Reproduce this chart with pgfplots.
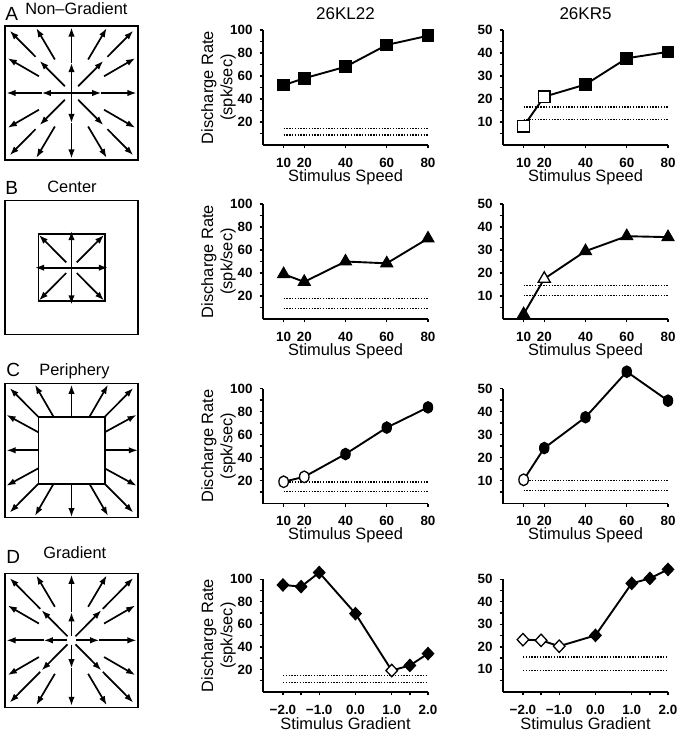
\documentclass[border=0pt]{standalone}
\usepackage{fontspec}
\setmainfont{Liberation Sans}
\usepackage{pgfplots}
\pgfplotsset{compat=1.18}
\usetikzlibrary{arrows.meta}

\pgfplotsset{
  rate/.style={
    scale only axis, width=82.5pt, height=57.5pt,
    axis lines=left, axis line style={-, line width=0.65pt},
    tick align=outside, major tick length=1.7pt, minor tick length=1.7pt,
    tick style={line width=0.65pt, black},
    ymin=0, clip=false,
    /pgf/number format/assume math mode=true,
    tick label style={font=\fontsize{6.7}{7}\selectfont\bfseries},
    xticklabel style={yshift=-1.2pt},
    label style={font=\fontsize{8.2}{9.6}\selectfont},
    xlabel={Stimulus Speed},
    xlabel style={at={(axis description cs:0.5,0)}, anchor=center, yshift=-16pt},
    every axis title/.style={font=\fontsize{8.5}{9}\selectfont, at={(axis description cs:0.5,1)}, anchor=base, yshift=5.3pt},
  },
  hundred/.style={ymax=100, ytick={20,40,60,80,100}, minor ytick={10,30,50,70,90}},
  fifty/.style={ymax=50, ytick={10,20,30,40,50}, minor ytick={5,15,25,35,45}},
  speed/.style={xmin=0, xmax=80, xtick={10,20,40,60,80}},
  grad/.style={xmin=-2.55, xmax=2, xtick={-2,-1.5,-1,0,1,1.5,2},
     xticklabels={−2.0,,−1.0,0.0,1.0,,2.0}, xlabel={Stimulus Gradient}},
  ylab/.style={ylabel={Discharge Rate\\(spk/sec)},
     ylabel style={at={(axis description cs:-0.27,0.5)}, anchor=center, align=center}},
  dataline/.style={black, line width=0.95pt, mark=none},
  base/.style={black, line width=0.75pt, dash pattern=on 0.7pt off 0.7pt},
  sqf/.style={only marks, mark=square*, mark size=2.9pt, mark options={fill=black, draw=black, line width=0.5pt}},
  sqo/.style={only marks, mark=square*, mark size=2.9pt, mark options={fill=white, draw=black, line width=0.65pt}},
  trif/.style={only marks, mark=triangle*, mark size=3.5pt, mark options={fill=black, draw=black, line width=0.5pt}},
  trio/.style={only marks, mark=triangle*, mark size=3.5pt, mark options={fill=white, draw=black, line width=0.65pt}},
  cirf/.style={only marks, mark=*, mark size=2.9pt, mark options={xscale=0.82, fill=black, draw=black, line width=0.5pt}},
  ciro/.style={only marks, mark=*, mark size=2.9pt, mark options={xscale=0.82, fill=white, draw=black, line width=0.65pt}},
  diaf/.style={only marks, mark=diamond*, mark size=3.1pt, mark options={xscale=1.25, fill=black, draw=black, line width=0.5pt}},
  diao/.style={only marks, mark=diamond*, mark size=3.1pt, mark options={xscale=1.25, fill=white, draw=black, line width=0.65pt}},
  diag/.style={scale only axis, width=66.5pt, height=67pt, xmin=-1, xmax=1, ymin=-1, ymax=1,
     xtick=\empty, ytick=\empty, axis line style={line width=0.75pt}, clip=false},
  arr/.style={black, line width=0.85pt, -{Latex[length=4.6pt,width=3.2pt]},
     quiver={u=\thisrow{u}, v=\thisrow{v}}},
}

\begin{document}
\begin{tikzpicture}
\useasboundingbox (0pt,0pt) rectangle (343pt,-368.5pt);

% ---------- panel labels ----------
\node[anchor=base west, inner sep=0pt, font=\fontsize{9.5}{10}\selectfont] at (2.5pt,-10.35pt) {A};
\node[anchor=base west, inner sep=0pt, font=\fontsize{8.2}{9}\selectfont] at (12.5pt,-7.5pt) {Non\textendash Gradient};
\node[anchor=base west, inner sep=0pt, font=\fontsize{9.5}{10}\selectfont] at (2.5pt,-97.5pt) {B};
\node[anchor=base west, inner sep=0pt, font=\fontsize{8.2}{9}\selectfont] at (23.5pt,-96.5pt) {Center};
\node[anchor=base west, inner sep=0pt, font=\fontsize{9.5}{10}\selectfont] at (3pt,-188.35pt) {C};
\node[anchor=base west, inner sep=0pt, font=\fontsize{8.2}{9}\selectfont] at (19.5pt,-187.5pt) {Periphery};
\node[anchor=base west, inner sep=0pt, font=\fontsize{9.5}{10}\selectfont] at (3pt,-281.65pt) {D};
\node[anchor=base west, inner sep=0pt, font=\fontsize{8.2}{9}\selectfont] at (21.5pt,-279.15pt) {Gradient};

% ---------- diagrams ----------
\begin{axis}[diag, at={(2.5pt,-13pt)}, anchor=north west]
\addplot[arr] table {
x y u v
0 0 0.45 0
0.45 0 0.53 0
0 0 -0.45 0
-0.45 0 -0.53 0
0 0 0 0.45
0 0.45 0 0.53
0 0 0 -0.45
0 -0.45 0 -0.53
0.1 0.1 0.38 0.38
0.54 0.54 0.39 0.39
-0.1 0.1 -0.38 0.38
-0.54 0.54 -0.39 0.39
0.1 -0.1 0.38 -0.38
0.54 -0.54 0.39 -0.39
-0.1 -0.1 -0.38 -0.38
-0.54 -0.54 -0.39 -0.39
0.49 0.25 0.47 0.27
0.25 0.5 0.28 0.47
-0.49 0.25 -0.47 0.27
-0.25 0.5 -0.28 0.47
0.49 -0.25 0.47 -0.27
0.25 -0.5 0.28 -0.47
-0.49 -0.25 -0.47 -0.27
-0.25 -0.5 -0.28 -0.47
};
\end{axis}

\begin{axis}[diag, at={(2.5pt,-100.35pt)}, anchor=north west]
\addplot[black, line width=0.75pt] coordinates {(-0.5,-0.5) (0.5,-0.5) (0.5,0.5) (-0.5,0.5) (-0.5,-0.5)};
\addplot[arr] table {
x y u v
0 0 0.55 0
0 0 -0.55 0
0 0 0 0.55
0 0 0 -0.55
0.08 0.08 0.41 0.41
-0.08 0.08 -0.41 0.41
0.08 -0.08 0.41 -0.41
-0.08 -0.08 -0.41 -0.41
};
\end{axis}

\begin{axis}[diag, at={(2.5pt,-191.65pt)}, anchor=north west]
\addplot[black, line width=0.75pt] coordinates {(-0.5,-0.5) (0.5,-0.5) (0.5,0.5) (-0.5,0.5) (-0.5,-0.5)};
\addplot[arr] table {
x y u v
0.5 0 0.5 0
-0.5 0 -0.48 0
0 0.5 0 0.48
0 -0.5 0 -0.5
0.5 0.5 0.43 0.43
-0.5 0.5 -0.43 0.43
0.5 -0.5 0.43 -0.43
-0.5 -0.5 -0.43 -0.43
0.5 0.27 0.48 0.26
0.27 0.5 0.28 0.48
-0.5 0.27 -0.48 0.26
-0.27 0.5 -0.28 0.48
0.5 -0.27 0.48 -0.26
0.27 -0.5 0.28 -0.48
-0.5 -0.27 -0.48 -0.26
-0.27 -0.5 -0.28 -0.48
};
\end{axis}

\begin{axis}[diag, at={(2.5pt,-286.65pt)}, anchor=north west]
\addplot[arr] table {
x y u v
0.07 0 0.35 0
0.42 0 0.56 0
-0.07 0 -0.35 0
-0.42 0 -0.56 0
0 0.07 0 0.35
0 0.42 0 0.56
0 -0.07 0 -0.35
0 -0.42 0 -0.56
0.06 0.06 0.39 0.39
0.47 0.47 0.46 0.46
-0.06 0.06 -0.39 0.39
-0.47 0.47 -0.46 0.46
0.06 -0.06 0.39 -0.39
0.47 -0.47 0.46 -0.46
-0.06 -0.06 -0.39 -0.39
-0.47 -0.47 -0.46 -0.46
0.49 0.25 0.47 0.27
0.25 0.5 0.28 0.47
-0.49 0.25 -0.47 0.27
-0.25 0.5 -0.28 0.47
0.49 -0.25 0.47 -0.27
0.25 -0.5 0.28 -0.47
-0.49 -0.25 -0.47 -0.27
-0.25 -0.5 -0.28 -0.47
};
\end{axis}

% ---------- Row A ----------
\begin{axis}[rate, hundred, speed, ylab, title={26KL22}, at={(131.5pt,-15pt)}, anchor=north west]
\addplot[base] coordinates {(10,14.4) (80,14.4)};
\addplot[base] coordinates {(10,8.5) (80,8.5)};
\addplot[dataline] coordinates {(10,52) (20,58) (40,68) (60,87) (80,95)};
\addplot[sqf] coordinates {(10,52) (20,58) (40,68) (60,87) (80,95)};
\end{axis}
\begin{axis}[rate, fifty, speed, title={26KR5}, at={(251.5pt,-15pt)}, anchor=north west]
\addplot[base] coordinates {(10,16.5) (80,16.5)};
\addplot[base] coordinates {(10,11) (80,11)};
\addplot[dataline] coordinates {(10,8.2) (20,21) (40,26.3) (60,37.7) (80,40.5)};
\addplot[sqo] coordinates {(10,8.2) (20,21)};
\addplot[sqf] coordinates {(40,26.3) (60,37.7) (80,40.5)};
\end{axis}

% ---------- Row B ----------
\begin{axis}[rate, hundred, speed, ylab, at={(131.5pt,-102pt)}, anchor=north west]
\addplot[base] coordinates {(10,17.7) (80,17.7)};
\addplot[base] coordinates {(10,9.2) (80,9.2)};
\addplot[dataline] coordinates {(10,39) (20,32.3) (40,50) (60,48.4) (80,70)};
\addplot[trif] coordinates {(10,39) (20,32.3) (40,50) (60,48.4) (80,70)};
\end{axis}
\begin{axis}[rate, fifty, speed, at={(251.5pt,-102pt)}, anchor=north west]
\addplot[base] coordinates {(10,14.6) (80,14.6)};
\addplot[base] coordinates {(10,10.3) (80,10.3)};
\addplot[dataline] coordinates {(10,2.1) (20,17.5) (40,29.5) (60,36) (80,35.6)};
\addplot[trio] coordinates {(20,17.5)};
\addplot[trif] coordinates {(10,2.1) (40,29.5) (60,36) (80,35.6)};
\end{axis}

% ---------- Row C ----------
\begin{axis}[rate, hundred, speed, ylab, at={(131.5pt,-194.25pt)}, anchor=north west]
\addplot[base] coordinates {(10,18.5) (80,18.5)};
\addplot[base] coordinates {(10,10.5) (80,10.5)};
\addplot[dataline] coordinates {(10,18.9) (20,23.2) (40,43) (60,66) (80,83.6)};
\addplot[ciro] coordinates {(10,18.9) (20,23.2)};
\addplot[cirf] coordinates {(40,43) (60,66) (80,83.6)};
\end{axis}
\begin{axis}[rate, fifty, speed, at={(251.5pt,-194.25pt)}, anchor=north west]
\addplot[base] coordinates {(10,10) (80,10)};
\addplot[base] coordinates {(10,5.6) (80,5.6)};
\addplot[dataline] coordinates {(10,10.3) (20,24.1) (40,37.5) (60,57.3) (80,44.7)};
\addplot[ciro] coordinates {(10,10.3)};
\addplot[cirf] coordinates {(20,24.1) (40,37.5) (60,57.3) (80,44.7)};
\end{axis}

% ---------- Row D ----------
\begin{axis}[rate, hundred, grad, ylab, height=56.3pt, at={(131.5pt,-289.65pt)}, anchor=north west]
\addplot[base] coordinates {(-2,14.6) (2,14.6)};
\addplot[base] coordinates {(-2,8.3) (2,8.3)};
\addplot[dataline] coordinates {(-2,95) (-1.5,93.5) (-1,106) (0,69.5) (1,19) (1.5,23.5) (2,34)};
\addplot[diaf] coordinates {(-2,95) (-1.5,93.5) (-1,106) (0,69.5) (1.5,23.5) (2,34)};
\addplot[diao] coordinates {(1,19)};
\end{axis}
\begin{axis}[rate, fifty, grad, height=56.3pt, at={(251.5pt,-289.65pt)}, anchor=north west]
\addplot[base] coordinates {(-2,15.6) (2,15.6)};
\addplot[base] coordinates {(-2,9.6) (2,9.6)};
\addplot[dataline] coordinates {(-2,23.2) (-1.5,22.9) (-1,20.3) (0,25.1) (1,48.2) (1.5,50.4) (2,54.4)};
\addplot[diao] coordinates {(-2,23.2) (-1.5,22.9) (-1,20.3)};
\addplot[diaf] coordinates {(0,25.1) (1,48.2) (1.5,50.4) (2,54.4)};
\end{axis}

\end{tikzpicture}
\end{document}
